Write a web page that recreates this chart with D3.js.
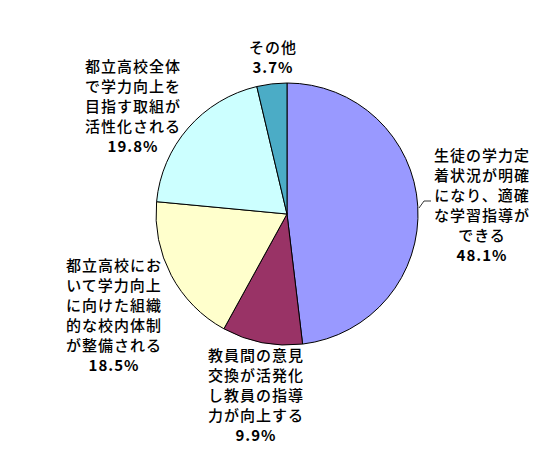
<!DOCTYPE html>
<html>
<head>
<meta charset="utf-8">
<script src="https://cdn.jsdelivr.net/npm/d3@7"></script>
<style>
  body { margin: 0; background: #fff; }
  text { font-family: "Noto Sans CJK JP", sans-serif; font-size: 15px; font-weight: 500; fill: #000; }
</style>
</head>
<body>
<div id="chart"></div>
<script>
// slices, clockwise from 12 o'clock
const categories = [
  '生徒の学力定着状況が明確になり、適確な学習指導ができる',
  '教員間の意見交換が活発化し教員の指導力が向上する',
  '都立高校において学力向上に向けた組織的な校内体制が整備される',
  '都立高校全体で学力向上を目指す取組が活性化される',
  'その他'
];
const values = [48.1, 9.9, 18.5, 19.8, 3.7];
const colors = ['#9999FF', '#993366', '#FFFFCC', '#CCFFFF', '#4BACC6'];
// label lines as shown on the chart
const labelLines = [
  ['生徒の学力定', '着状況が明確', 'になり、適確', 'な学習指導が', 'できる'],
  ['教員間の意見', '交換が活発化', 'し教員の指導', '力が向上する'],
  ['都立高校にお', 'いて学力向上', 'に向けた組織', '的な校内体制', 'が整備される'],
  ['都立高校全体', 'で学力向上を', '目指す取組が', '活性化される'],
  ['その他']
];
// label block centres (x, first line y)
const labelPos = [[482, 156], [256, 356], [114, 266], [133, 67], [273, 48]];

const width = 546;
const height = 450;
const cx = 287, cy = 214, r = 131;
const lineH = 20;

const svg = d3
  .select('#chart')
  .append('svg')
  .attr('width', width)
  .attr('height', height);

const pie = d3.pie().sort(null).value((d) => d);
const arc = d3.arc().innerRadius(0).outerRadius(r);

const g = svg.append('g').attr('transform', `translate(${cx},${cy})`);

g.selectAll('path')
  .data(pie(values))
  .enter()
  .append('path')
  .attr('d', arc)
  .style('fill', (d, i) => colors[i])
  .style('stroke', '#000')
  .style('stroke-width', 1);

// leader for the big slice
svg.append('path')
  .attr('d', 'M419,208 L424,201 L431,201')
  .style('fill', 'none')
  .style('stroke', '#000')
  .style('stroke-width', 0.8);

const labels = svg
  .selectAll('.label')
  .data(values)
  .enter()
  .append('text')
  .attr('class', 'label')
  .attr('text-anchor', 'middle');

labels.each(function (v, i) {
  const t = d3.select(this);
  const [x, y] = labelPos[i];
  const lines = labelLines[i].concat([v.toFixed(1) + '%']);
  lines.forEach((s, j) => {
    t.append('tspan')
      .attr('x', x)
      .attr('y', y + j * lineH)
      .attr('dy', '0.35em')
      .style('letter-spacing', '1px')
      .style('font-weight', j === lines.length - 1 ? 700 : null)
      .text(s);
  });
});
</script>
</body>
</html>
